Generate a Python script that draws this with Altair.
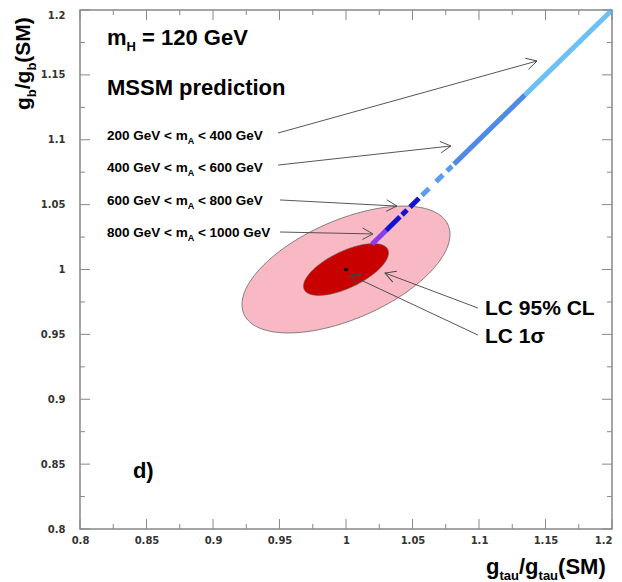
import math
import altair as alt
import pandas as pd
import numpy as np

# ---------------- data ----------------
X_DOMAIN = [0.8, 1.2]
Y_DOMAIN = [0.8, 1.2]
major_ticks = [0.8, 0.85, 0.9, 0.95, 1.0, 1.05, 1.1, 1.15, 1.2]
minor_ticks = [0.825, 0.875, 0.925, 0.975, 1.025, 1.075, 1.125, 1.175]

# MSSM prediction (g_tau ratio = g_b ratio), coloured by m_A band
seg_lo = [1.0195, 1.0301, 1.0421, 1.0481, 1.0571, 1.0677, 1.0759, 1.0812, 1.1346]
seg_hi = [1.0301, 1.0406, 1.0459, 1.0549, 1.0624, 1.0729, 1.0797, 1.1346, 1.2000]
seg_color = ["#8c3cf0", "#1414d0", "#1414d0", "#1414d0",
             "#5a9cf0", "#5a9cf0", "#5a9cf0", "#4f8ae8", "#6cc0f4"]

# LC measurement ellipses
ell_name = ["LC 95% CL", "LC 1sigma"]
ell_cx = [1.0, 1.0]
ell_cy = [1.0, 1.0]
ell_sx = [0.0782, 0.0320]
ell_sy = [0.0489, 0.0200]
ell_rho = [0.553, 0.64]
ell_fill = ["#f8b9c4", "#c80000"]

# annotation arrows (tail -> head), data coordinates
arr_x1 = [0.9489, 0.9489, 0.9504, 0.9504, 1.0992, 1.0992]
arr_y1 = [1.1052, 1.0805, 1.0536, 1.0289, 0.9703, 0.9495]
arr_x2 = [1.1436, 1.0789, 1.0383, 1.0203, 1.0293, 1.0030]
arr_y2 = [1.1607, 1.0952, 1.0489, 1.0274, 0.9973, 0.9958]

range_lo = ["200", "400", "600", "800"]
range_hi = ["400", "600", "800", "1000"]
range_y = [1.0998, 1.0751, 1.0497, 1.0250]

# ---------------- layout helpers ----------------
W, H = 532, 519
PXX = W / (X_DOMAIN[1] - X_DOMAIN[0])
PXY = H / (Y_DOMAIN[1] - Y_DOMAIN[0])

AW = {' ': 278, 'G': 778, 'e': 556, 'V': 667, '<': 584, 'm': 889, 'A': 722,
      'H': 722, '=': 584, '(': 333, ')': 333, 'S': 667, 'M': 833, 'g': 611,
      'b': 611, '/': 278, 't': 333, 'a': 556, 'u': 611, 'd': 611, 'L': 611,
      'C': 722, '%': 889, 'p': 611, 'r': 389, 'i': 278, 'c': 556, 'o': 611,
      'n': 611, 'σ': 600}


def width(s, fs):
    return sum(AW.get(ch, 556) for ch in s) / 1000 * fs


def rich(x, y, parts, vertical=False):
    rows = []
    adv = 0.0
    for text, fs, sub in parts:
        shift = fs * 0.45 if sub else 0.0
        stripped = text.lstrip(" ")
        adv += width(text[: len(text) - len(stripped)], fs)
        if vertical:
            rows.append(dict(text=stripped, x=x + shift / PXX, y=y + adv / PXY, fs=fs, ang=270))
        else:
            rows.append(dict(text=stripped, x=x + adv / PXX, y=y - shift / PXY, fs=fs, ang=0))
        adv += width(stripped, fs)
    return rows


rows = []
rows += rich(0.8203, 1.1730, [("m", 22, False), ("H", 13, True), (" = 120 GeV", 22, False)])
rows += rich(0.8203, 1.1345, [("MSSM prediction", 22, False)])
for lo, hi, yy in zip(range_lo, range_hi, range_y):
    rows += rich(0.8203, yy, [(f"{lo} GeV < m", 13.5, False), ("A", 9, True),
                              (f" < {hi} GeV", 13.5, False)])
rows += rich(1.1045, 0.9649, [("LC 95% CL", 21, False)])
rows += rich(1.1045, 0.9434, [("LC 1σ", 21, False)])
rows += rich(0.8398, 0.8393, [("d)", 22, False)])
rows += rich(1.1053, 0.7653, [("g", 22, False), ("tau", 13, True), ("/g", 22, False),
                              ("tau", 13, True), ("(SM)", 22, False)])
rows += rich(0.7624, 1.1229, [("g", 21, False), ("b", 13, True), ("/g", 21, False),
                              ("b", 13, True), ("(SM)", 21, False)], vertical=True)
text_df = pd.DataFrame(rows)

seg_df = pd.DataFrame(dict(x=seg_lo, y=seg_lo, x2=seg_hi, y2=seg_hi, c=seg_color))

ell_rows = []
t = np.linspace(0, 2 * np.pi, 181)
for k in range(len(ell_name)):
    ex = ell_cx[k] + ell_sx[k] * np.cos(t)
    ey = ell_cy[k] + ell_sy[k] * (ell_rho[k] * np.cos(t) + math.sqrt(1 - ell_rho[k] ** 2) * np.sin(t))
    for i, (a, b) in enumerate(zip(ex, ey)):
        ell_rows.append(dict(name=ell_name[k], i=i, x=a, y=b))
ell_df = pd.DataFrame(ell_rows)

arr_df = pd.DataFrame(dict(x=arr_x1, y=arr_y1, x2=arr_x2, y2=arr_y2))
arr_df["ang"] = [
    (math.degrees(math.atan2(-(b2 - b1) * PXY, (a2 - a1) * PXX)) + 360) % 360
    for a1, b1, a2, b2 in zip(arr_x1, arr_y1, arr_x2, arr_y2)
]

tick_major = pd.DataFrame(dict(v=major_ticks))
tick_minor = pd.DataFrame(dict(v=minor_ticks))

xs = alt.Scale(domain=X_DOMAIN, nice=False, zero=False)
ys = alt.Scale(domain=Y_DOMAIN, nice=False, zero=False)
xax = alt.Axis(values=major_ticks, format="~g", ticks=False, domain=False, grid=False,
               labelFont="DejaVu Sans", labelFontWeight="bold", labelFontSize=10,
               labelColor="#333", labelPadding=6, labelFlush=False, labelOverlap=False,
               labelAlign={"condition": {"test": "datum.value >= 1.19", "value": "right"},
                           "value": "center"},
               title=None)
yax = alt.Axis(values=major_ticks, format="~g", ticks=False, domain=False, grid=False,
               labelFont="DejaVu Sans", labelFontWeight="bold", labelFontSize=10,
               labelColor="#333", labelPadding=15, labelFlush=False, labelOverlap=False,
               labelBaseline={"condition": {"test": "datum.value >= 1.19", "value": "top"},
                              "value": "middle"},
               title=None)

X = lambda f="x": alt.X(f, type="quantitative", scale=xs, axis=xax)
Y = lambda f="y": alt.Y(f, type="quantitative", scale=ys, axis=yax)


def tick_rule(df, **enc):
    return alt.Chart(df).mark_rule(color="#888", strokeWidth=1).encode(**enc)


layers = [
    alt.Chart(ell_df).transform_filter(alt.datum.name == ell_name[0]).mark_line(
        fill=ell_fill[0], stroke="#666", strokeWidth=0.8).encode(x=X(), y=Y(), order="i:Q"),
    alt.Chart(ell_df).transform_filter(alt.datum.name == ell_name[1]).mark_line(
        fill=ell_fill[1], stroke="#666", strokeWidth=0.6).encode(x=X(), y=Y(), order="i:Q"),
    alt.Chart(seg_df).mark_rule(strokeWidth=5, strokeCap="butt").encode(
        x=X(), y=Y(), x2="x2", y2="y2", color=alt.Color("c:N", scale=None)),
    alt.Chart(pd.DataFrame(dict(x=[1.0], y=[1.0]))).mark_point(
        filled=True, color="black", size=14, opacity=1).encode(x=X(), y=Y()),
    alt.Chart(arr_df).mark_rule(color="#444", strokeWidth=0.9).encode(
        x=X(), y=Y(), x2="x2", y2="y2"),
    alt.Chart(arr_df).mark_point(shape="M -1 -0.55 L 0 0 L -1 0.55", filled=False,
                                 color="#444", strokeWidth=0.9, size=440, opacity=1).encode(
        x=X("x2"), y=Y("y2"), angle=alt.Angle("ang:Q", scale=None)),
    # ticks (inward, all four sides)
    tick_rule(tick_major, x=X("v"), y=alt.value(H), y2=alt.value(H - 10)),
    tick_rule(tick_minor, x=X("v"), y=alt.value(H), y2=alt.value(H - 5)),
    tick_rule(tick_major, x=X("v"), y=alt.value(0), y2=alt.value(10)),
    tick_rule(tick_minor, x=X("v"), y=alt.value(0), y2=alt.value(5)),
    tick_rule(tick_major, y=Y("v"), x=alt.value(0), x2=alt.value(10)),
    tick_rule(tick_minor, y=Y("v"), x=alt.value(0), x2=alt.value(5)),
    tick_rule(tick_major, y=Y("v"), x=alt.value(W), x2=alt.value(W - 10)),
    tick_rule(tick_minor, y=Y("v"), x=alt.value(W), x2=alt.value(W - 5)),
    alt.Chart(text_df).mark_text(align="left", baseline="alphabetic", font="Liberation Sans",
                                 fontWeight="bold", color="black").encode(
        x=X(), y=Y(), text="text:N", size=alt.Size("fs:Q", scale=None),
        angle=alt.Angle("ang:Q", scale=None)),
]

chart = alt.layer(*layers).properties(
    width=W, height=H,
    autosize=alt.AutoSizeParams(type="none"),
    padding={"left": 72, "top": 2, "right": 2, "bottom": 55},
).configure_view(stroke="#888", strokeWidth=1.5)

chart.save("out.html", embed_options={"renderer": "svg", "actions": False})
